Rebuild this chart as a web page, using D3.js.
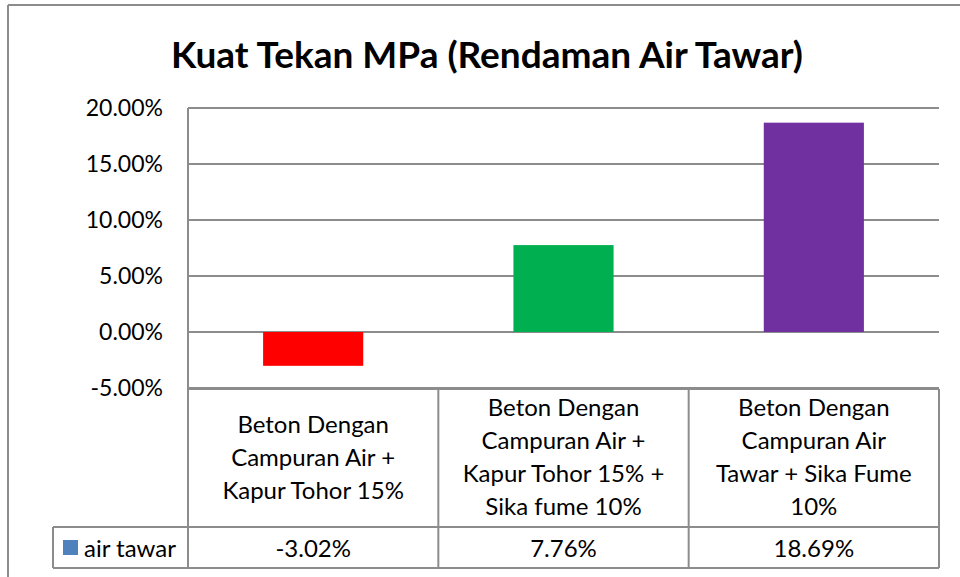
<!DOCTYPE html>
<html>
<head>
<meta charset="utf-8">
<script src="https://cdn.jsdelivr.net/npm/d3@7"></script>
<style>
  html, body { margin: 0; padding: 0; background: #fff; }
  svg { display: block; }
  text { font-family: Lato, "Open Sans", sans-serif; fill: #000; }
</style>
</head>
<body>
<svg id="chart" width="960" height="577"></svg>
<script>
const title = "Kuat Tekan MPa (Rendaman Air Tawar)";
const categories = [
  ["Beton Dengan", "Campuran Air +", "Kapur Tohor 15%"],
  ["Beton Dengan", "Campuran Air +", "Kapur Tohor 15% +", "Sika fume 10%"],
  ["Beton Dengan", "Campuran Air", "Tawar + Sika Fume", "10%"]
];
const seriesName = "air tawar";
const values = [-3.02, 7.76, 18.69];
const barColors = ["#ff0000", "#00b050", "#7030a0"];
const yTicks = [-5, 0, 5, 10, 15, 20];
const legendColor = "#4f81bd";

const svg = d3.select("#chart");
const grid = "#8c8c8c";

// outer chart border
svg.append("line").attr("x1", 8).attr("x2", 960).attr("y1", 5).attr("y2", 5)
  .attr("stroke", "#8c8c8c").attr("stroke-width", 2);
svg.append("line").attr("x1", 8).attr("x2", 8).attr("y1", 5).attr("y2", 577)
  .attr("stroke", "#8c8c8c").attr("stroke-width", 2);

const plot = { left: 188, right: 939, top: 108, bottom: 388 };
const tableBottomCat = 527, tableBottom = 568, legendLeft = 53;

const x = d3.scaleBand().domain(d3.range(values.length))
  .range([plot.left, plot.right]).paddingInner(0.6).paddingOuter(0.3);
const y = d3.scaleLinear().domain([-5, 20]).range([plot.bottom, plot.top]);

// title
svg.append("text").attr("x", 487).attr("y", 68).attr("text-anchor", "middle")
  .style("font-size", "37px").style("font-weight", "bold").text(title);

// gridlines
svg.append("g").selectAll("line").data(yTicks).join("line")
  .attr("x1", plot.left).attr("x2", plot.right)
  .attr("y1", d => y(d)).attr("y2", d => y(d))
  .attr("stroke", grid).attr("stroke-width", 2);

// y axis labels via d3 axis
const yAxis = d3.axisLeft(y).tickValues(yTicks).tickSize(0).tickPadding(0)
  .tickFormat(d => d.toFixed(2) + "%");
const ga = svg.append("g").attr("transform", `translate(${163},0)`).call(yAxis);
ga.select(".domain").remove();
ga.selectAll("text").style("font-family", "Lato, sans-serif").style("font-size", "23px")
  .attr("fill", "#000");

// y axis line
svg.append("line").attr("x1", plot.left).attr("x2", plot.left)
  .attr("y1", plot.top).attr("y2", tableBottom)
  .attr("stroke", grid).attr("stroke-width", 2);

// bars
svg.append("g").selectAll("rect").data(values).join("rect")
  .attr("x", (d, i) => x(i))
  .attr("width", x.bandwidth())
  .attr("y", d => y(Math.max(0, d)))
  .attr("height", d => Math.abs(y(d) - y(0)))
  .attr("fill", (d, i) => barColors[i]);

// data table
const colEdges = d3.range(values.length + 1).map(i => plot.left + i * (plot.right - plot.left) / values.length);
const tg = svg.append("g").attr("stroke", grid).attr("stroke-width", 2);
tg.append("line").attr("x1", plot.left).attr("x2", plot.right).attr("y1", plot.bottom + 1).attr("y2", plot.bottom + 1);
tg.append("line").attr("x1", legendLeft).attr("x2", plot.right).attr("y1", tableBottomCat).attr("y2", tableBottomCat);
tg.append("line").attr("x1", legendLeft).attr("x2", plot.right).attr("y1", tableBottom).attr("y2", tableBottom);
tg.append("line").attr("x1", legendLeft).attr("x2", legendLeft).attr("y1", tableBottomCat).attr("y2", tableBottom);
colEdges.slice(1).forEach(cx => {
  tg.append("line").attr("x1", cx).attr("x2", cx).attr("y1", plot.bottom + 1).attr("y2", tableBottom);
});

// category labels
const lh = 33;
const catMid = (plot.bottom + tableBottomCat) / 2;
categories.forEach((lines, i) => {
  const cx = x(i) + x.bandwidth() / 2;
  const t = svg.append("text").attr("text-anchor", "middle").style("font-size", "24px");
  lines.forEach((ln, j) => {
    t.append("tspan").attr("x", cx)
      .attr("y", catMid + (j - (lines.length - 1) / 2) * lh + 8)
      .text(ln);
  });
});

// values row
const valMid = (tableBottomCat + tableBottom) / 2;
values.forEach((v, i) => {
  svg.append("text").attr("x", x(i) + x.bandwidth() / 2).attr("y", valMid + 9)
    .attr("text-anchor", "middle").style("font-size", "24px")
    .text(v.toFixed(2) + "%");
});

// legend key
svg.append("rect").attr("x", 63).attr("y", 540).attr("width", 15).attr("height", 15).attr("fill", legendColor);
svg.append("text").attr("x", 84).attr("y", valMid + 9).style("font-size", "24px").text(seriesName);
</script>
</body>
</html>
